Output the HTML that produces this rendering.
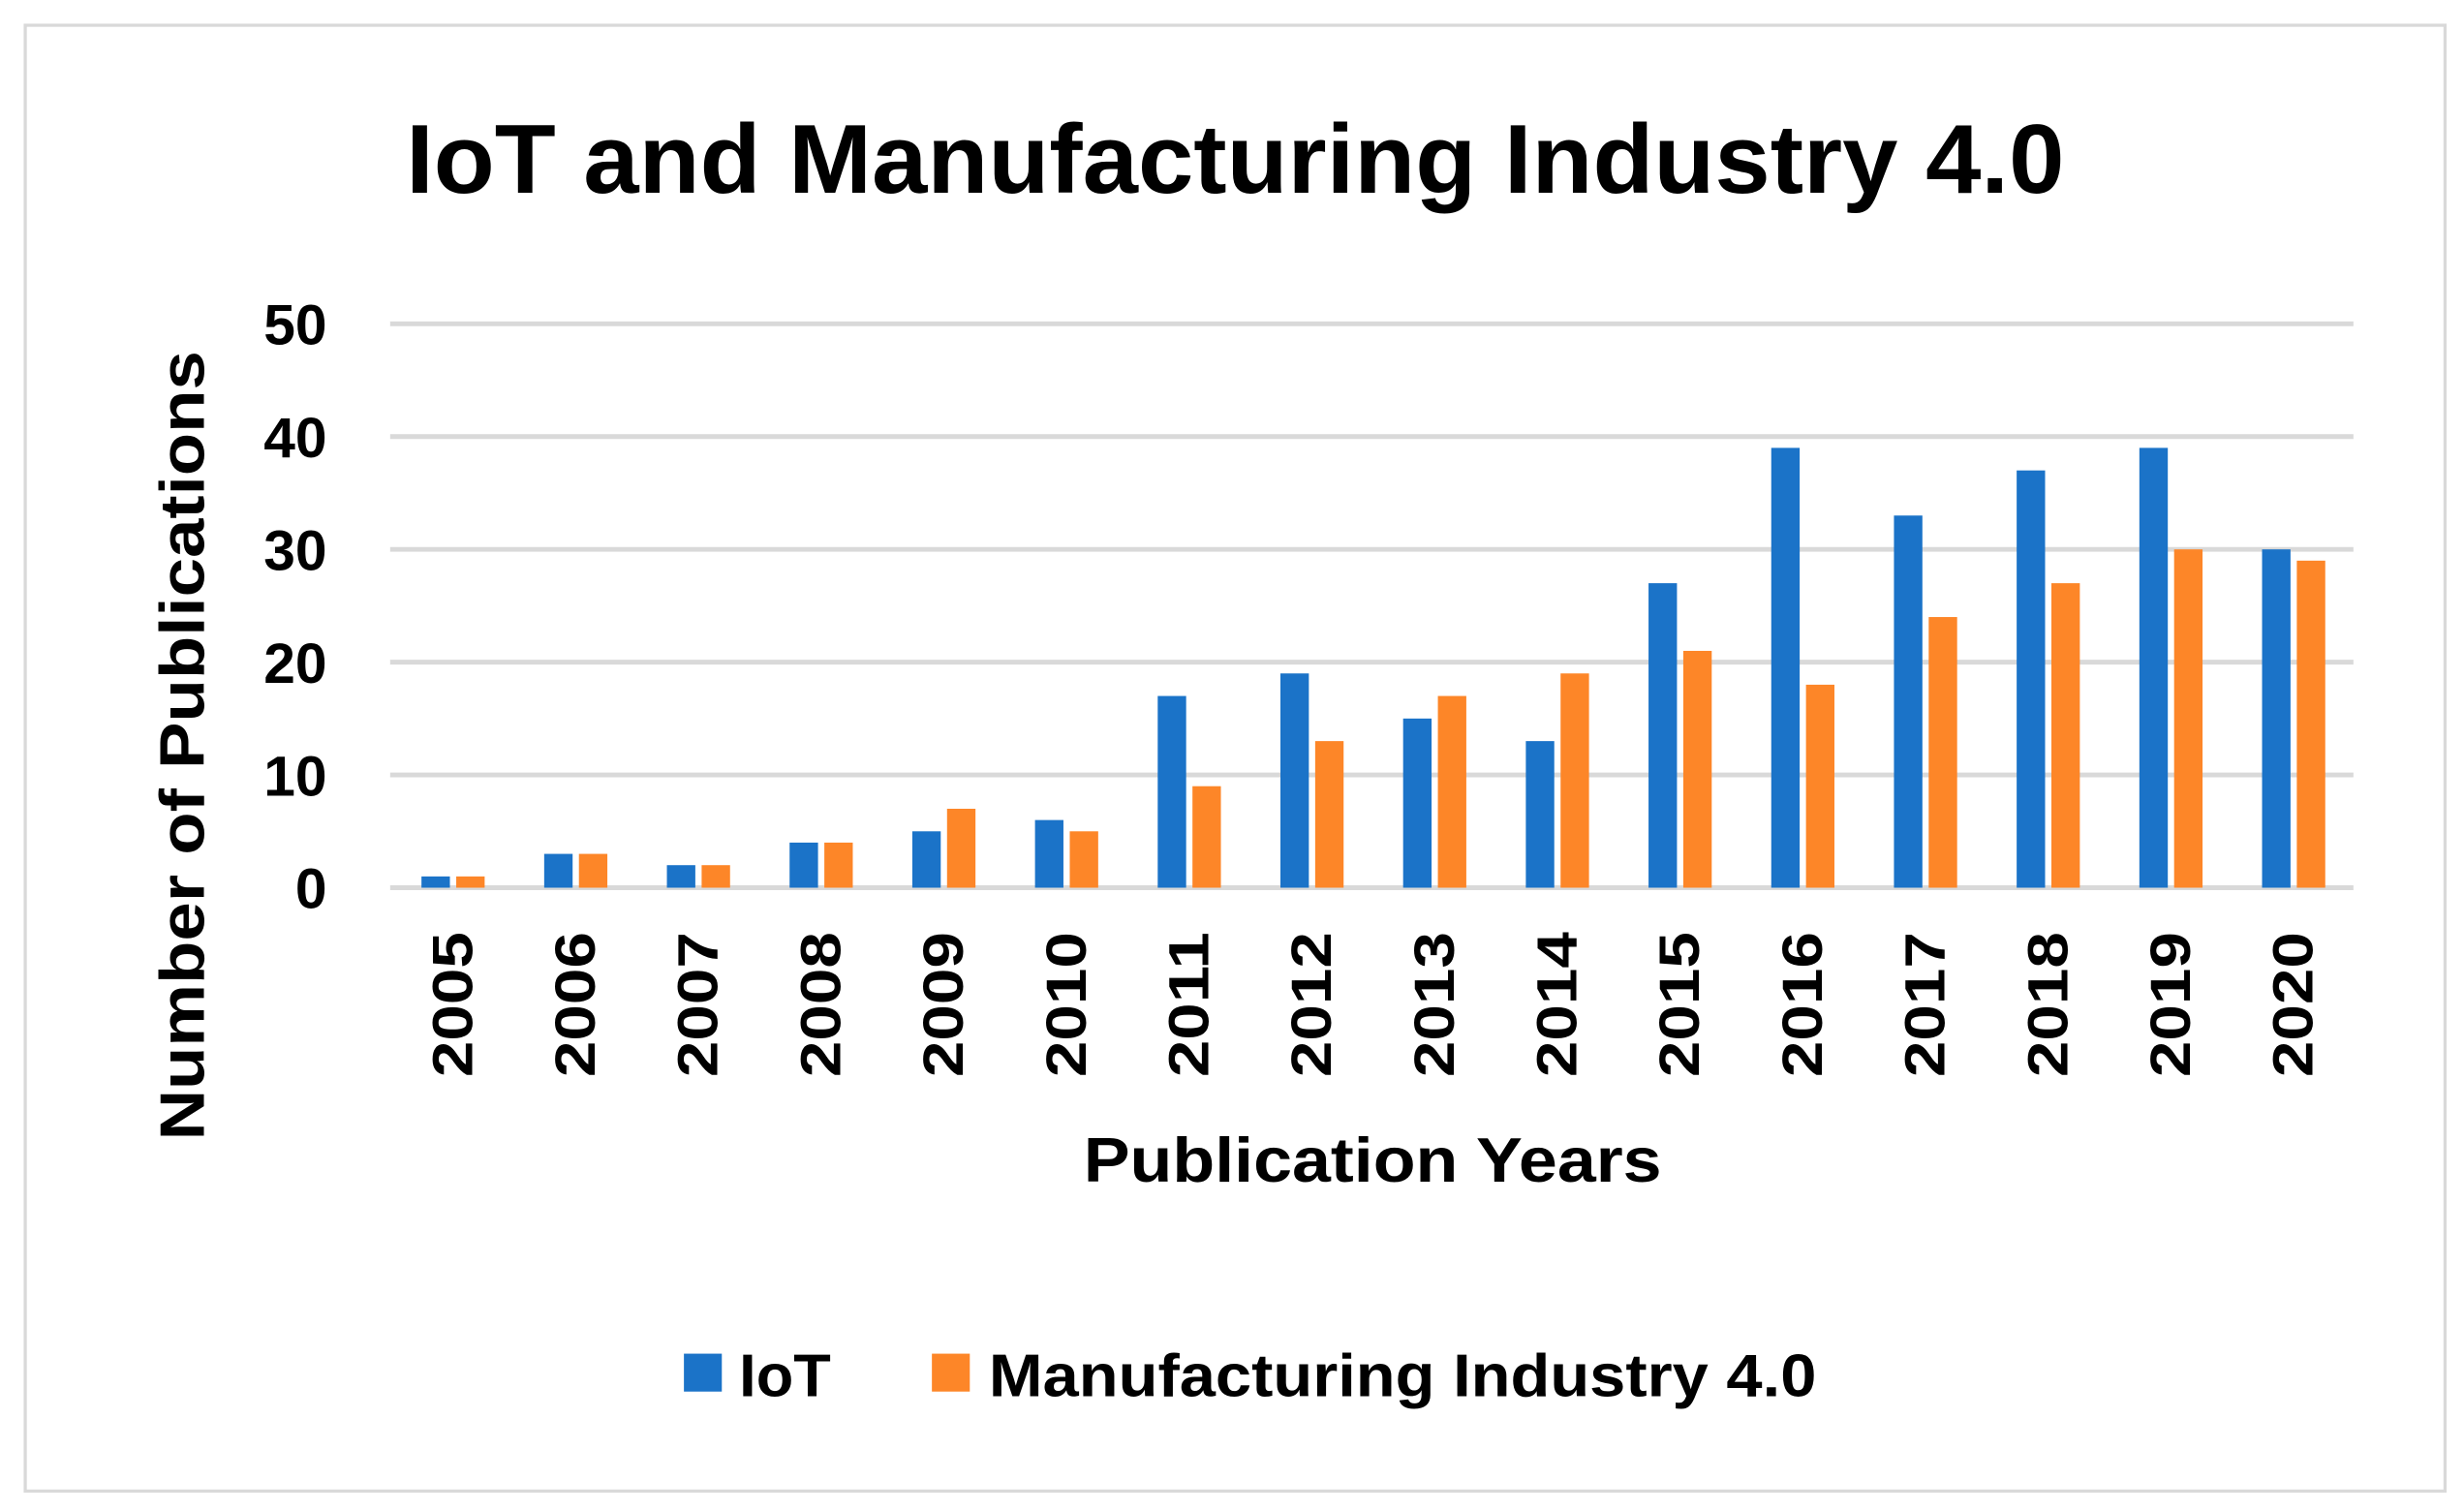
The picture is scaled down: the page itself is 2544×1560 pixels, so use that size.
<!DOCTYPE html>
<html><head><meta charset="utf-8"><style>
html,body{margin:0;padding:0;background:#fff}
svg{display:block}
text{font-family:"Liberation Sans",sans-serif;font-weight:bold;fill:#000}
</style></head><body>
<svg id="chart" width="2544" height="1560" viewBox="0 0 1560 956.6" xmlns="http://www.w3.org/2000/svg">
<rect x="16" y="16" width="1532" height="928" fill="#fff" stroke="#d9d9d9" stroke-width="2"/>
<text x="782" y="122" font-size="62" text-anchor="middle" textLength="1050" lengthAdjust="spacingAndGlyphs">IoT and Manufacturing Industry 4.0</text>
<g id="grid"></g>
<g id="yticks"></g>
<g id="bars"></g>
<g id="xticks"></g>
<text transform="translate(129,472) rotate(-90)" font-size="40" text-anchor="middle" textLength="500" lengthAdjust="spacingAndGlyphs">Number of Publications</text>
<text x="869" y="748" font-size="40" text-anchor="middle" textLength="366" lengthAdjust="spacingAndGlyphs">Publication Years</text>
<g>
<rect x="433" y="857" width="24" height="24" fill="#1b73c8"/>
<text x="468" y="884" font-size="38" textLength="58" lengthAdjust="spacingAndGlyphs">IoT</text>
<rect x="590" y="857" width="24" height="24" fill="#fd8628"/>
<text x="626" y="884" font-size="38" textLength="524" lengthAdjust="spacingAndGlyphs">Manufacturing Industry 4.0</text>
</g>
</svg>
<script>
const categories = ["2005","2006","2007","2008","2009","2010","2011","2012","2013","2014","2015","2016","2017","2018","2019","2020"];
const iotValues = [1,3,2,4,5,6,17,19,15,13,27,39,33,37,39,30];
const manufacturingValues = [1,3,2,4,7,5,9,13,17,19,21,18,24,27,30,29];
const yTickLabels = [0,10,20,30,40,50];

const NS = "http://www.w3.org/2000/svg";
const plotLeft = 247, plotRight = 1490, y0 = 562, yTop = 205, yMax = 50;
function yScale(v){ return y0 - (v / yMax) * (y0 - yTop); }
const band = (plotRight - plotLeft) / categories.length;
function xCenter(i){ return plotLeft + band * (i + 0.5); }
const barW = 18;

const grid = document.getElementById('grid');
const yticks = document.getElementById('yticks');
yTickLabels.forEach(t => {
  const l = document.createElementNS(NS, 'line');
  
  
  l.setAttribute('x1', plotLeft); l.setAttribute('x2', plotRight);
  l.setAttribute('y1', yScale(t)); l.setAttribute('y2', yScale(t));
  l.setAttribute('stroke', '#d9d9d9'); l.setAttribute('stroke-width', '3');
  grid.appendChild(l);
  const tx = document.createElementNS(NS, 'text');
  
  
  tx.setAttribute('x', 207); tx.setAttribute('y', yScale(t) + 13);
  tx.setAttribute('text-anchor', 'end'); tx.setAttribute('font-size', '36');
  tx.textContent = t;
  yticks.appendChild(tx);
});

const bars = document.getElementById('bars');
const xticks = document.getElementById('xticks');
categories.forEach((c, i) => {
  const cx = xCenter(i);
  const b1 = document.createElementNS(NS, 'rect');
  
  
  b1.setAttribute('x', cx - 19); b1.setAttribute('width', barW);
  b1.setAttribute('y', yScale(iotValues[i])); b1.setAttribute('height', y0 - yScale(iotValues[i]));
  b1.setAttribute('fill', '#1b73c8');
  bars.appendChild(b1);
  const b2 = document.createElementNS(NS, 'rect');
  
  
  b2.setAttribute('x', cx + 3); b2.setAttribute('width', barW);
  b2.setAttribute('y', yScale(manufacturingValues[i])); b2.setAttribute('height', y0 - yScale(manufacturingValues[i]));
  b2.setAttribute('fill', '#fd8628');
  bars.appendChild(b2);
  const tx = document.createElementNS(NS, 'text');
  
  
  tx.setAttribute('transform', 'translate(' + (cx + 13) + ',590) rotate(-90)');
  tx.setAttribute('text-anchor', 'end'); tx.setAttribute('font-size', '36');
  tx.setAttribute('textLength', '92'); tx.setAttribute('lengthAdjust', 'spacingAndGlyphs');
  tx.textContent = c;
  xticks.appendChild(tx);
});
</script>
</body></html>
